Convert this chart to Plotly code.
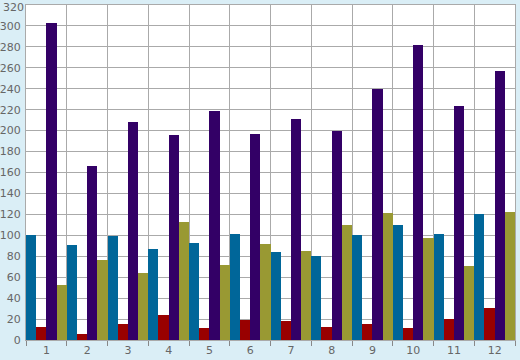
import plotly.graph_objects as go

categories = ["1", "2", "3", "4", "5", "6", "7", "8", "9", "10", "11", "12"]
blue = [100, 91, 99, 87, 93, 101, 84, 80, 100, 110, 101, 120]
red = [12, 6, 15, 24, 11, 19, 18, 12, 15, 11, 20, 31]
purple = [303, 166, 208, 196, 219, 197, 211, 200, 240, 282, 224, 257]
olive = [53, 76, 64, 113, 72, 92, 85, 110, 121, 97, 71, 122]
y_max = 320

series = [("A", blue, "#006699"), ("B", red, "#990000"),
          ("C", purple, "#330066"), ("D", olive, "#999933")]

fig = go.Figure()
for name, vals, col in series:
    fig.add_trace(go.Bar(x=categories, y=vals, name=name, marker_color=col,
                         marker_line_width=0))

fig.update_layout(
    width=520, height=360,
    margin=dict(l=26, r=5, t=5, b=20, autoexpand=False),
    paper_bgcolor="#daeef6",
    plot_bgcolor="#ffffff",
    barmode="group", bargap=0, bargroupgap=0,
    showlegend=False,
    font=dict(family="DejaVu Sans", size=11, color="#666666"),
)
fig.update_xaxes(type="category", tickson="boundaries", showgrid=True,
                 range=[-0.5, 11.5], automargin=False,
                 gridcolor="#aaaaaa", gridwidth=1, ticks="outside",
                 ticklen=5, tickcolor="#888888", showline=True,
                 linecolor="#aaaaaa", mirror=True)
fig.update_yaxes(range=[0, y_max], tickmode="array",
                 tickvals=list(range(0, y_max, 20)),
                 showgrid=True, gridcolor="#aaaaaa",
                 automargin=False,
                 gridwidth=1, showline=True, linecolor="#aaaaaa", mirror=True,
                 ticks="", ticklabelstandoff=2, zeroline=False)

# top tick label (Plotly hides it at the paper edge)
fig.add_annotation(x=0, xref="paper", y=y_max, yref="y", text=str(y_max),
                   showarrow=False, xanchor="right", yanchor="middle",
                   xshift=-1, yshift=-2, borderpad=0,
                   font=dict(family="DejaVu Sans", size=11, color="#666666"))

fig.write_html("out.html", config={"displayModeBar": False},
               post_script="document.body.style.margin='0';document.body.style.padding='0';document.body.style.background='#daeef6';")
